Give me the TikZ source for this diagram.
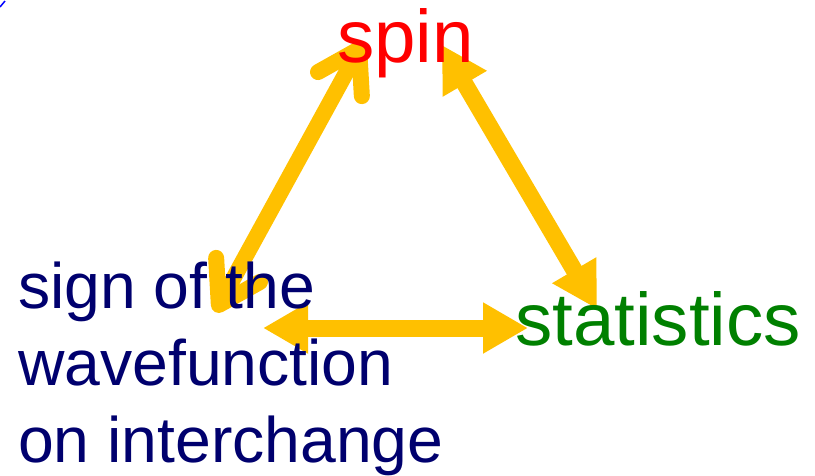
\documentclass[tikz,border=0pt]{standalone}
\usepackage{fontspec}
\setmainfont{Liberation Sans}
\usetikzlibrary{arrows.meta, positioning, calc, backgrounds}
\definecolor{spincol}{RGB}{255,0,0}
\definecolor{statcol}{RGB}{0,128,0}
\definecolor{signcol}{RGB}{0,0,110}
\definecolor{linkcol}{RGB}{255,192,0}

\begin{document}
\begin{tikzpicture}[
    x=1pt, y=-1pt,
    term/.style={inner sep=0pt, anchor=base west},
    link/.style={linkcol, line width=17pt,
        {Triangle[length=45pt, width=48pt]}-{Triangle[length=45pt, width=48pt]}},
    barblink/.style={linkcol, line width=16pt, line cap=round,
        {Straight Barb[length=40pt, width=50pt, round]}-{Straight Barb[length=40pt, width=50pt, round]}}
]
\useasboundingbox (0,0) rectangle (815,475);

% Begriffe
\node[term, spincol, font=\fontsize{74.5}{80}\selectfont] (spin) at (337,62) {spin};
\node[term, statcol, font=\fontsize{74.5}{80}\selectfont] (stats) at (515,345) {statistics};
\node[term, signcol, align=left, font=\fontsize{64.3}{77}\selectfont] (sign) at (18,462)
    {sign of the\\wavefunction\\on interchange};

% Pfeile
\begin{scope}[on background layer]
\draw[barblink] ($(spin.base west)+(26,-20)$) -- ($(sign.base west)+(197,-150)$);
\draw[link] ($(spin.base west)+(105,-17)$) -- ($(stats.base west)+(82,-36)$);
\draw[link] ($(sign.base west)+(245,-134)$) -- ($(stats.base west)+(13,-17)$);
\end{scope}

% Ecke
\draw[blue, line width=1.5pt] (0,7) -- (5,1);

\end{tikzpicture}
\end{document}
